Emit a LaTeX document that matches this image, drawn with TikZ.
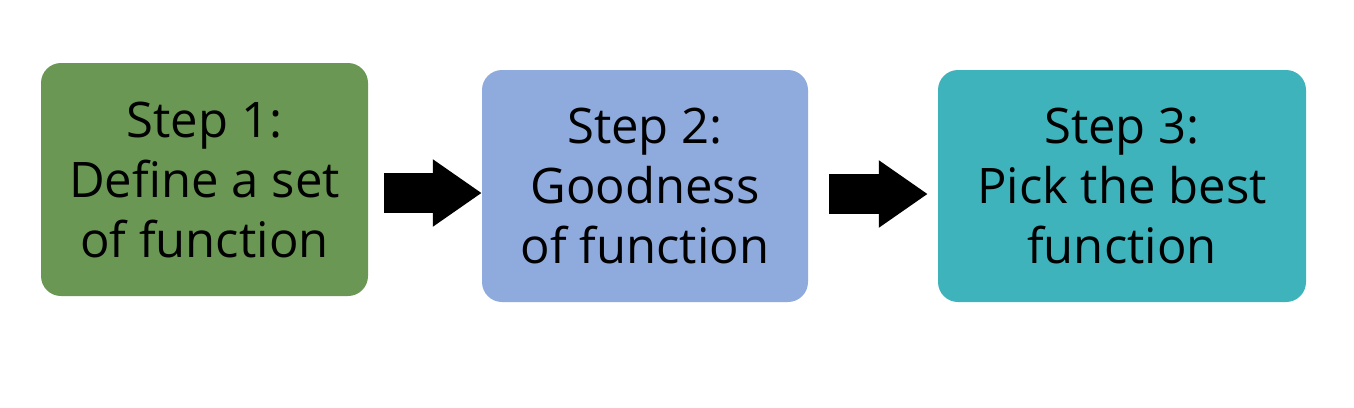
\documentclass[tikz,border=0pt]{standalone}
\usepackage{fontspec}
\setmainfont{Open Sans}
\usetikzlibrary{arrows.meta}
\definecolor{cgreen}{RGB}{106,151,83}
\definecolor{cblue}{RGB}{143,170,220}
\definecolor{cteal}{RGB}{62,179,187}
\begin{document}
\begin{tikzpicture}[x=1pt,y=-1pt,
  stepbox/.style={rounded corners=20pt, inner sep=0pt, align=center,
    font=\fontsize{49}{60}\selectfont, text=black},
  blockarrow/.style={line width=40pt, black,
    -{Triangle[length=49pt,width=64pt]}, shorten <=16pt}]
\useasboundingbox (0,0) rectangle (1354,407);
\fill[white] (0,0) rectangle (1354,407);
\path[fill=cgreen, rounded corners=20pt] (41,63) rectangle (368,296);
\path[fill=cblue, rounded corners=20pt] (482,70) rectangle (808,302);
\path[fill=cteal, rounded corners=20pt] (938,70) rectangle (1306,302);
\node[minimum width=327pt, minimum height=233pt, inner sep=0pt] (b1) at (204.5,179.5) {};
\node[minimum width=326pt, minimum height=232pt, inner sep=0pt] (b2) at (645,186) {};
\node[minimum width=368pt, minimum height=232pt, inner sep=0pt] (b3) at (1122,186) {};
\node[stepbox] (t1) at (b1.center) {Step 1:\\Define a set\\of function};
\node[stepbox] (t2) at (b2.center) {Step 2:\\Goodness\\of function};
\node[stepbox] (t3) at (b3.center) {Step 3:\\Pick the best\\function};
\coordinate (a1) at (368,193);
\coordinate (a2) at (813,194);
\draw[blockarrow] (a1) -- (b2.west |- a1);
\draw[blockarrow] (a2) -- ([xshift=-10pt]b3.west |- a2);
\end{tikzpicture}
\end{document}
